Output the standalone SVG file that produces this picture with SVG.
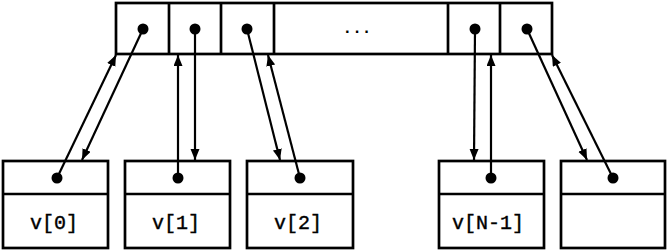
<svg xmlns="http://www.w3.org/2000/svg" width="670" height="251" viewBox="0 0 670 251">
<style>
.box{fill:#fff;stroke:#000;stroke-width:2.7}
.ln{stroke:#000;stroke-width:2.7;fill:none}
.arr{stroke:#000;stroke-width:2.2;fill:none;marker-end:url(#ah)}
.dot{fill:#000}
.lbl{font-family:"Liberation Mono",monospace;font-size:20px;text-anchor:middle;fill:#000;stroke:#000;stroke-width:0.4}
</style>
<defs>
<marker id="ah" markerUnits="userSpaceOnUse" markerWidth="12" markerHeight="10" refX="11" refY="4.5" orient="auto">
<path d="M0,0 L11,4.5 L0,9 z" fill="#000"/>
</marker>
</defs>
<g id="array">
<rect class="box" x="116" y="3" width="436" height="51"/>
<line class="ln" x1="169" y1="3" x2="169" y2="54"/>
<line class="ln" x1="221" y1="3" x2="221" y2="54"/>
<line class="ln" x1="274" y1="3" x2="274" y2="54"/>
<line class="ln" x1="448" y1="3" x2="448" y2="54"/>
<line class="ln" x1="500" y1="3" x2="500" y2="54"/>
<circle class="dot" cx="143" cy="29" r="5.5"/>
<circle class="dot" cx="195" cy="29" r="5.5"/>
<circle class="dot" cx="247" cy="29" r="5.5"/>
<circle class="dot" cx="475" cy="29" r="5.5"/>
<circle class="dot" cx="527" cy="29" r="5.5"/>
<text x="357" y="33" style="font-family:'Liberation Mono',monospace;font-weight:bold;font-size:16px;text-anchor:middle">...</text>
</g>
<g id="v0">
<rect class="box" x="3" y="161" width="105" height="87"/>
<line class="ln" x1="3" y1="194" x2="108" y2="194"/>
<circle class="dot" cx="57" cy="178" r="5.5"/>
<text class="lbl" x="54" y="229">v[0]</text>
</g>
<g id="v1">
<rect class="box" x="125" y="161" width="105" height="87"/>
<line class="ln" x1="125" y1="194" x2="230" y2="194"/>
<circle class="dot" cx="178" cy="178" r="5.5"/>
<text class="lbl" x="176" y="229">v[1]</text>
</g>
<g id="v2">
<rect class="box" x="247" y="161" width="106" height="87"/>
<line class="ln" x1="247" y1="194" x2="353" y2="194"/>
<circle class="dot" cx="300" cy="178" r="5.5"/>
<text class="lbl" x="298" y="229">v[2]</text>
</g>
<g id="vN1">
<rect class="box" x="439" y="161" width="105" height="87"/>
<line class="ln" x1="439" y1="194" x2="544" y2="194"/>
<circle class="dot" cx="491" cy="178" r="5.5"/>
<text class="lbl" x="488" y="229">v[N-1]</text>
</g>
<g id="vN">
<rect class="box" x="561" y="161" width="104" height="87"/>
<line class="ln" x1="561" y1="194" x2="665" y2="194"/>
<circle class="dot" cx="613" cy="178" r="5.5"/>
</g>
<g id="connectors">
<line class="arr" x1="143" y1="29" x2="82" y2="160"/>
<line class="arr" x1="57" y1="178" x2="116" y2="55"/>
<line class="arr" x1="195" y1="29" x2="195" y2="160"/>
<line class="arr" x1="178" y1="178" x2="178" y2="55"/>
<line class="arr" x1="247" y1="29" x2="280" y2="160"/>
<line class="arr" x1="300" y1="178" x2="268" y2="55"/>
<line class="arr" x1="475" y1="29" x2="474" y2="160"/>
<line class="arr" x1="491" y1="178" x2="491" y2="55"/>
<line class="arr" x1="527" y1="29" x2="587" y2="160"/>
<line class="arr" x1="613" y1="178" x2="552" y2="55"/>
</g>
</svg>
